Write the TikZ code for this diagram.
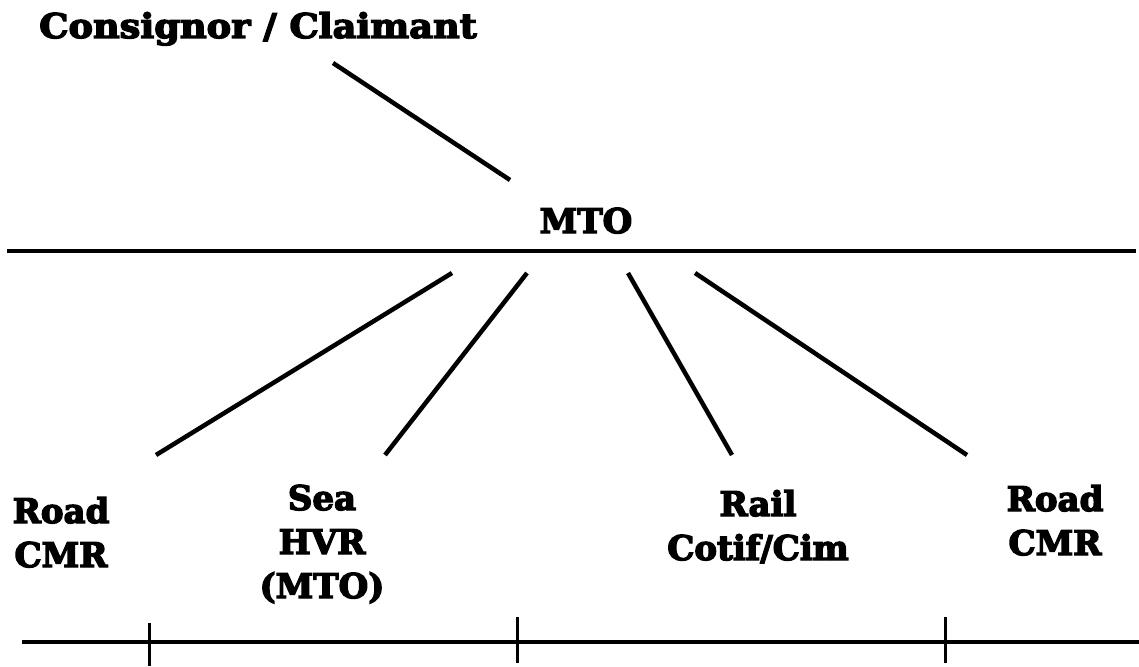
\documentclass[tikz,border=0pt]{standalone}
\usepackage{fontspec}
\setmainfont{DejaVu Serif}
\newfontfamily\heavy{DejaVu Serif}[FakeBold=4]
\begin{document}
\begin{tikzpicture}[x=1pt,y=-1pt,
  lbl/.style={font=\fontsize{34}{44}\selectfont\heavy\bfseries, align=center, inner sep=0pt, anchor=base},
  ln/.style={line width=4.5pt},
  hl/.style={line width=3.8pt},
  tick/.style={line width=3pt}]
\useasboundingbox[fill=white] (0,0) rectangle (1139,666);
% labels
\node[lbl, xscale=1.08] (cons) at (258,38) {Consignor / Claimant};
\node[lbl] (mto) at (586,233) {MTO};
\node[lbl] (roadL) at (61,567) {Road\\CMR};
\node[lbl] (sea) at (322,598) {Sea\\HVR\\(MTO)};
\node[lbl] (rail) at (758,560) {Rail\\Cotif/Cim};
\node[lbl] (roadR) at (1055,555) {Road\\CMR};
% connector end points
\coordinate (c0a) at (333,63);  \coordinate (c0b) at (510,180);
\coordinate (f1a) at (452,273); \coordinate (f1b) at (156,455);
\coordinate (f2a) at (527,273); \coordinate (f2b) at (385,455);
\coordinate (f3a) at (628,273); \coordinate (f3b) at (732,455);
\coordinate (f4a) at (695,273); \coordinate (f4b) at (967,455);
\coordinate (tla) at (7,251);   \coordinate (tlb) at (1136,251);
\coordinate (bla) at (22,642);  \coordinate (blb) at (1139,642);
\coordinate (t1a) at (149,623); \coordinate (t1b) at (149,666);
\coordinate (t2a) at (517,617); \coordinate (t2b) at (517,663);
\coordinate (t3a) at (945,617); \coordinate (t3b) at (945,663);
% lines
\draw[ln] (c0a) -- (c0b);
\draw[hl] (tla) -- (tlb);
\draw[ln] (f1a) -- (f1b);
\draw[ln] (f2a) -- (f2b);
\draw[ln] (f3a) -- (f3b);
\draw[ln] (f4a) -- (f4b);
\draw[hl] (bla) -- (blb);
\draw[tick] (t1a) -- (t1b);
\draw[tick] (t2a) -- (t2b);
\draw[tick] (t3a) -- (t3b);
\end{tikzpicture}
\end{document}
